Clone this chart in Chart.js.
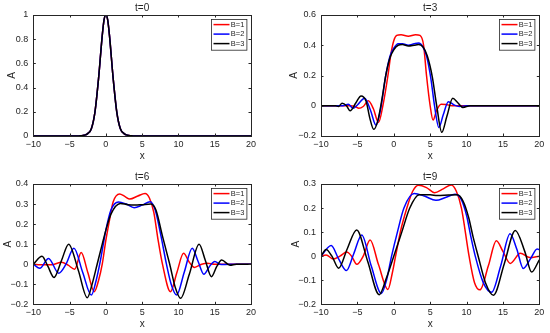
<!DOCTYPE html>
<html><head><meta charset="utf-8">
<script src="https://cdn.jsdelivr.net/npm/chart.js@4/dist/chart.umd.min.js"></script>
<style>
html,body{margin:0;padding:0;background:#fff;}
body{width:550px;height:333px;position:relative;overflow:hidden;}
canvas{position:absolute;}
</style></head><body>
<canvas id="c0" width="275" height="166" style="left:0;top:0"></canvas>
<canvas id="c1" width="275" height="166" style="left:275px;top:0"></canvas>
<canvas id="c2" width="275" height="167" style="left:0;top:166px"></canvas>
<canvas id="c3" width="275" height="167" style="left:275px;top:166px"></canvas>
<script>
// ---------- data ----------
const seriesLabels = ['B=1','B=2','B=3'];
const xTicks = [-10,-5,0,5,10,15,20];

// t=0 (all three B coincide)
const t0_x = [-10,-4,-3.5,-3,-2.5,-2,-1.5,-1,-0.5,-0.25,0,0.25,0.5,1,1.5,2,2.5,3,3.5,4,20];
const t0_A = [0,0,0.002,0.006,0.02,0.06,0.2,0.48,0.83,0.96,1,0.96,0.83,0.48,0.2,0.06,0.02,0.006,0.002,0,0];

// t=3
const t3_x1 = [-10,-6,-5.3,-4.8,-4.2,-3.5,-2.8,-2.1,-1.5,-0.8,-0.4,0,0.4,1,2,3,3.6,4.1,4.5,5,5.4,5.9,6.5,7.2,8,20];
const t3_y1 = [0,0,-0.005,-0.017,-0.005,0.033,-0.02,-0.11,0.0,0.2,0.34,0.43,0.465,0.47,0.46,0.47,0.465,0.4,0.2,0.0,-0.095,-0.03,0.01,0.008,0,0];
const t3_x2 = [-10,-7,-6.25,-5.6,-5,-4,-3.2,-2.45,-1.8,-1.1,-0.5,0,0.6,1.2,2,2.8,3.4,4,4.5,5.1,5.6,6.2,6.8,7.5,8.3,9,10,20];
const t3_y2 = [0,0,0.01,-0.017,0.005,0.05,-0.03,-0.128,-0.02,0.2,0.33,0.38,0.41,0.41,0.4,0.41,0.415,0.39,0.33,0.18,0.0,-0.143,-0.06,0.027,0.005,-0.005,0,0];
const t3_x3 = [-10,-8,-7.6,-7.1,-6.5,-6,-5.2,-4.5,-3.8,-3.3,-2.75,-2.2,-1.6,-1.1,-0.5,0,0.6,1.2,2,2.8,3.4,4,4.6,5.3,5.9,6.6,7.3,8.1,8.8,9.5,10.5,20];
const t3_y3 = [0,0,-0.005,0.016,0.0,-0.033,0.02,0.065,0.03,-0.08,-0.156,-0.1,0.05,0.2,0.32,0.37,0.4,0.405,0.395,0.4,0.405,0.39,0.33,0.19,0.0,-0.176,-0.07,0.049,0.02,-0.011,0,0];

// t=6
const t6_x1 = [-10,-9,-7.5,-6.1,-5.2,-4.3,-3.4,-2.5,-1.6,-1,-0.5,0,0.4,1,1.9,2.6,3.3,4.4,5.4,6.0,6.6,7.2,7.8,8.9,9.8,10.7,11.5,12.2,13.2,14,15,20];
const t6_y1 = [0,-0.003,-0.003,0.01,-0.005,-0.025,0.058,-0.04,-0.137,-0.08,0.0,0.12,0.2,0.31,0.35,0.338,0.325,0.34,0.353,0.33,0.26,0.12,0.0,-0.137,-0.04,0.054,0.01,-0.016,0.0,0.005,0,0];
const t6_x2 = [-10,-9.1,-7.9,-6.5,-5.5,-4.4,-3.2,-2.0,-1.4,-0.85,-0.4,0,0.7,1.75,2.8,3.9,5,6.1,6.8,7.6,8.35,9.0,9.75,10.8,11.9,12.7,13.5,14.3,15,15.9,17,20];
const t6_y2 = [0,-0.02,0.029,-0.045,0.0,0.079,-0.04,-0.154,-0.09,0.0,0.09,0.17,0.27,0.31,0.3,0.282,0.295,0.312,0.27,0.14,0.0,-0.1,-0.154,-0.04,0.079,0.015,-0.05,-0.01,0.013,-0.002,0,0];
const t6_x3 = [-10,-8.8,-8,-7.15,-6.1,-5.13,-3.8,-2.56,-1.9,-1.2,-0.5,0,0.7,2,3,4,5,6.2,6.9,7.8,8.8,9.6,10.3,11.5,12.85,13.7,14.55,15.3,15.95,17.1,18,20];
const t6_y3 = [0,0.04,-0.01,-0.066,0.02,0.10,-0.03,-0.167,-0.1,0.0,0.1,0.17,0.25,0.303,0.297,0.295,0.297,0.3,0.27,0.14,0.0,-0.12,-0.17,-0.05,0.10,0.02,-0.062,-0.01,0.021,-0.005,0,0];

// t=9
const t9_x1 = [-10,-9.3,-8.3,-7.4,-6.46,-5.8,-5.08,-4.2,-3.25,-2.1,-0.8,-0.2,0.25,0.9,1.8,2.6,3.4,4.5,5.6,6.8,7.9,8.6,9.3,10.35,11.1,11.85,13,14.1,15,16,17.4,18.7,20];
const t9_y1 = [0,0.005,-0.012,0.0,0.017,0.0,-0.034,0.0,0.067,-0.035,-0.138,-0.07,0.0,0.1,0.2,0.27,0.295,0.285,0.264,0.28,0.296,0.27,0.2,0.0,-0.11,-0.14,-0.04,0.064,0.02,-0.03,0.012,-0.006,0];
const t9_x2 = [-10,-8.6,-7.6,-6.5,-5.5,-4.4,-3.1,-1.7,-1.0,-0.3,0.5,1.4,2.8,4.2,5.8,7.2,8.4,9.2,10,10.6,11.2,12.3,13.45,14.7,15.98,16.9,17.8,18.8,19.7,20];
const t9_y2 = [0,0.044,-0.01,-0.06,0.01,0.088,-0.04,-0.155,-0.1,0.0,0.1,0.2,0.26,0.25,0.232,0.245,0.257,0.24,0.17,0.08,0.0,-0.11,-0.15,-0.04,0.093,0.03,-0.051,-0.01,0.03,0.027];
const t9_x3 = [-10,-9.3,-8.5,-7.57,-6.4,-5.1,-3.6,-2.0,-1.0,0.0,1.1,2.2,3.5,5,6,7.5,8.7,9.5,10.3,10.9,11.6,12.6,13.7,15.2,16.7,18,18.95,20];
const t9_y3 = [0,0.028,0.0,-0.05,0.03,0.109,-0.02,-0.16,-0.09,0.0,0.1,0.2,0.255,0.255,0.252,0.254,0.255,0.23,0.16,0.08,0.0,-0.11,-0.162,-0.03,0.107,0.02,-0.066,-0.015];

const colors = ['#ff0000','#0000ff','#000000'];
const TXT = '#262626';
const FONT = '"Liberation Sans", Arial, Helvetica, sans-serif';

const panels = [
  {id:'c0', h:166, area:{l:33.3,t:15,r:251,b:136}, title:'t=0', ymin:0, ymax:1, ystep:0.2, aX:12,
   series:[[t0_x,t0_A],[t0_x,t0_A],[t0_x,t0_A]]},
  {id:'c1', h:166, area:{l:46,t:15,r:264.3,b:136}, title:'t=3', ymin:-0.2, ymax:0.6, ystep:0.2, aX:19.5,
   series:[[t3_x1,t3_y1],[t3_x2,t3_y2],[t3_x3,t3_y3]]},
  {id:'c2', h:167, area:{l:33.3,t:18,r:251,b:138.3}, title:'t=6', ymin:-0.2, ymax:0.4, ystep:0.1, aX:8.5,
   series:[[t6_x1,t6_y1],[t6_x2,t6_y2],[t6_x3,t6_y3]]},
  {id:'c3', h:167, area:{l:46,t:18,r:264.3,b:138.3}, title:'t=9', ymin:-0.2, ymax:0.3, ystep:0.1, aX:21.5,
   series:[[t9_x1,t9_y1],[t9_x2,t9_y2],[t9_x3,t9_y3]]}
];

function fmt(v){
  let r = Math.round(v*10)/10;
  if (Object.is(r,-0)) r = 0;
  return String(r).replace('-', '\u2212');
}

const decor = {
  id:'decor',
  afterDatasetsDraw(chart, args, o){
    const {ctx, chartArea:a, scales} = chart;
    ctx.save();
    ctx.strokeStyle = TXT; ctx.lineWidth = 1;
    // frame
    ctx.strokeRect(Math.round(a.left)+0.5, Math.round(a.top)+0.5, Math.round(a.right)-Math.round(a.left), Math.round(a.bottom)-Math.round(a.top));
    const tl = 2.5;
    ctx.beginPath();
    scales.x.ticks.forEach(t=>{
      const px = Math.round(scales.x.getPixelForValue(t.value))+0.5;
      ctx.moveTo(px, a.bottom); ctx.lineTo(px, a.bottom - tl);
      ctx.moveTo(px, a.top); ctx.lineTo(px, a.top + tl);
    });
    scales.y.ticks.forEach(t=>{
      const py = Math.round(scales.y.getPixelForValue(t.value))+0.5;
      ctx.moveTo(a.left, py); ctx.lineTo(a.left + tl, py);
      ctx.moveTo(a.right, py); ctx.lineTo(a.right - tl, py);
    });
    ctx.stroke();
    // title
    ctx.fillStyle = TXT;
    ctx.font = '10px ' + FONT;
    ctx.textAlign = 'center'; ctx.textBaseline = 'middle';
    ctx.fillText(o.title, (a.left + a.right)/2, a.top - 6.7);
    // legend box
    const bw = 35.4, bh = 30.7;
    const bx = Math.round(a.right - 4.5 - bw), by = Math.round(a.top + 4.3);
    ctx.fillStyle = '#fff';
    ctx.fillRect(bx, by, bw, bh);
    ctx.strokeStyle = TXT; ctx.lineWidth = 0.8;
    ctx.strokeRect(bx+0.5, by+0.5, bw, bh);
    ctx.font = '7.5px ' + FONT;
    ctx.textAlign = 'left';
    const rows = [5.6, 15.1, 24.6];
    chart.data.datasets.forEach((ds, i)=>{
      const y = by + rows[i];
      ctx.strokeStyle = ds.borderColor; ctx.lineWidth = 1.5;
      ctx.beginPath(); ctx.moveTo(bx+2.5, y); ctx.lineTo(bx+18.5, y); ctx.stroke();
      ctx.fillStyle = TXT;
      ctx.fillText(ds.label, bx+19.8, y+0.3);
    });
    ctx.restore();
  }
};

panels.forEach(p=>{
  const W = 275;
  const datasets = p.series.map((s,i)=>({
    label: seriesLabels[i],
    data: s[0].map((x,j)=>({x:x, y:s[1][j]})),
    borderColor: colors[i],
    backgroundColor: colors[i],
    borderWidth: 1.5,
    pointRadius: 0,
    fill: false,
    cubicInterpolationMode: 'monotone',
    order: 3 - i
  }));
  new Chart(document.getElementById(p.id), {
    type: 'line',
    data: {datasets},
    plugins: [decor],
    options: {
      responsive: false,
      animation: false,
      devicePixelRatio: 1,
      layout: {padding: {left: 0, top: p.area.t, right: W - p.area.r, bottom: 0}},
      plugins: {
        legend: {display:false},
        tooltip: {enabled:false},
        decor: {title: p.title}
      },
      scales: {
        x: {
          type: 'linear', min: -10, max: 20,
          afterBuildTicks: (sc)=>{ sc.ticks = xTicks.map(v=>({value:v})); },
          grid: {display:false, drawTicks:false},
          border: {display:false},
          ticks: {color: TXT, font:{size:9, family: FONT}, padding: 3, maxRotation:0, autoSkip:false,
                  callback: v=>fmt(v)},
          title: {display:true, text:'x', color: TXT, font:{size:10, family: FONT},
                  padding:{top:0, bottom: Math.max(0, p.h - (p.area.b + 20) - 6)}},
          afterFit: (sc)=>{ sc.height = p.h - p.area.b; }
        },
        y: {
          type: 'linear', min: p.ymin, max: p.ymax,
          grid: {display:false, drawTicks:false},
          border: {display:false},
          ticks: {color: TXT, font:{size:9, family: FONT}, padding: 5, stepSize: p.ystep,
                  callback: v=>fmt(v)},
          title: {display:true, text:'A', color: TXT, font:{size:10, family: FONT},
                  padding:{top: p.aX - 6, bottom:0}},
          afterFit: (sc)=>{ sc.width = p.area.l; }
        }
      }
    }
  });
});
</script>
</body></html>
